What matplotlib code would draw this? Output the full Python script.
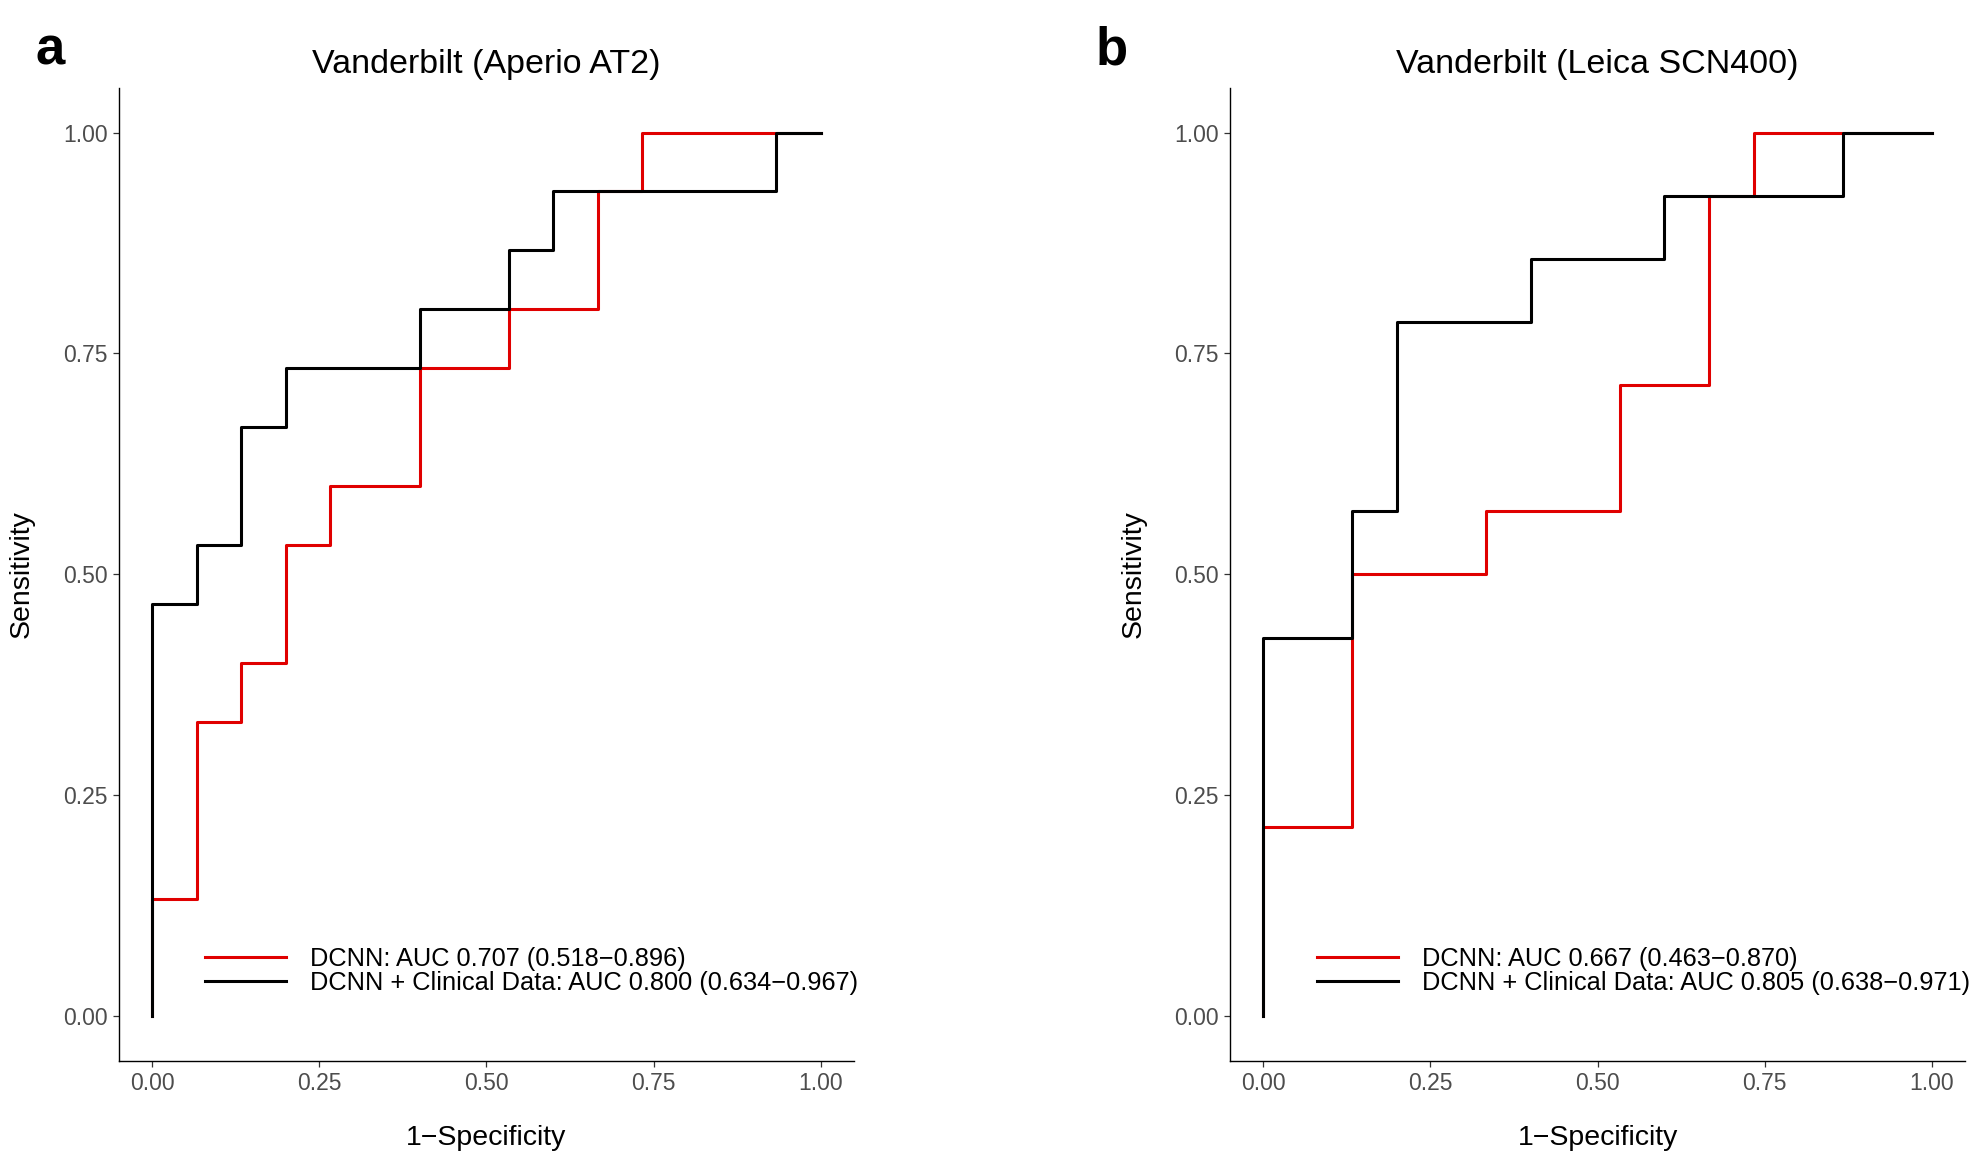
"""
ROC curves for the two Vanderbilt scanner cohorts (panels a and b).
Output: out.png
"""

import matplotlib
matplotlib.use("Agg")
import matplotlib.pyplot as plt

plt.rcParams.update({
    "font.family": ["Liberation Sans", "DejaVu Sans"],
    "font.size":   18,
})

# ── ROC corner points (FPR = 1-Specificity) ──
# panel a: 15 negatives / 15 positives
A_DCNN_FPR = [0, 0, 1/15, 1/15, 2/15, 2/15, 3/15, 3/15, 4/15, 4/15, 6/15, 6/15,
              8/15, 8/15, 10/15, 10/15, 11/15, 11/15, 1]
A_DCNN_TPR = [0, 2/15, 2/15, 5/15, 5/15, 6/15, 6/15, 8/15, 8/15, 9/15, 9/15, 11/15,
              11/15, 12/15, 12/15, 14/15, 14/15, 1, 1]
A_CLIN_FPR = [0, 0, 1/15, 1/15, 2/15, 2/15, 3/15, 3/15, 6/15, 6/15, 8/15, 8/15,
              9/15, 9/15, 14/15, 14/15, 1]
A_CLIN_TPR = [0, 7/15, 7/15, 8/15, 8/15, 10/15, 10/15, 11/15, 11/15, 12/15, 12/15, 13/15,
              13/15, 14/15, 14/15, 1, 1]

# panel b: 15 negatives / 14 positives
B_DCNN_FPR = [0, 0, 2/15, 2/15, 5/15, 5/15, 8/15, 8/15, 10/15, 10/15, 11/15, 11/15, 1]
B_DCNN_TPR = [0, 3/14, 3/14, 7/14, 7/14, 8/14, 8/14, 10/14, 10/14, 13/14, 13/14, 1, 1]
B_CLIN_FPR = [0, 0, 2/15, 2/15, 3/15, 3/15, 6/15, 6/15, 9/15, 9/15, 13/15, 13/15, 1]
B_CLIN_TPR = [0, 6/14, 6/14, 8/14, 8/14, 11/14, 11/14, 12/14, 12/14, 13/14, 13/14, 1, 1]

TITLES = ["Vanderbilt (Aperio AT2)", "Vanderbilt (Leica SCN400)"]
PANEL_TAGS = ["a", "b"]
LEGEND_A = ["DCNN: AUC 0.707 (0.518\u22120.896)",
            "DCNN + Clinical Data: AUC 0.800 (0.634\u22120.967)"]
LEGEND_B = ["DCNN: AUC 0.667 (0.463\u22120.870)",
            "DCNN + Clinical Data: AUC 0.805 (0.638\u22120.971)"]
TICKS = [0.0, 0.25, 0.5, 0.75, 1.0]
TICK_LABELS = ["0.00", "0.25", "0.50", "0.75", "1.00"]

RED = "#E00000"


def draw_panel(ax, curves, labels, title):
    for (fpr, tpr), color in zip(curves, [RED, "black"]):
        ax.plot(fpr, tpr, color=color, linewidth=2.2)

    ax.set_xlim(-0.05, 1.05)
    ax.set_ylim(-0.05, 1.05)
    ax.set_xticks(TICKS)
    ax.set_xticklabels(TICK_LABELS)
    ax.set_yticks(TICKS)
    ax.set_yticklabels(TICK_LABELS)
    ax.tick_params(colors="#333333", labelcolor="#4D4D4D", labelsize=16.5,
                   length=4, width=0.9, pad=4)
    for side in ["top", "right"]:
        ax.spines[side].set_visible(False)
    for side in ["left", "bottom"]:
        ax.spines[side].set_linewidth(1.0)
        ax.spines[side].set_color("black")

    ax.set_xlabel("1\u2212Specificity", fontsize=20.5, labelpad=22)
    ax.set_ylabel("Sensitivity", fontsize=20.5, labelpad=20)
    ax.set_title(title, fontsize=24.5, pad=11)

    ax.legend(labels, loc="center left", bbox_to_anchor=(0.118, 0.0925),
              frameon=False, fontsize=18.3, handlelength=3.18,
              handletextpad=0.95, labelspacing=0.0, borderpad=0,
              borderaxespad=0)


fig = plt.figure(figsize=(19.78, 11.59), dpi=100)
ax_a = fig.add_axes([0.0600, 0.0849, 0.3718, 0.8389])
ax_b = fig.add_axes([0.6218, 0.0849, 0.3718, 0.8389])

draw_panel(ax_a, [(A_DCNN_FPR, A_DCNN_TPR), (A_CLIN_FPR, A_CLIN_TPR)],
           LEGEND_A, TITLES[0])
draw_panel(ax_b, [(B_DCNN_FPR, B_DCNN_TPR), (B_CLIN_FPR, B_CLIN_TPR)],
           LEGEND_B, TITLES[1])

fig.text(0.0255, 0.978, PANEL_TAGS[0], fontsize=38, fontweight="bold",
         va="top", ha="center")
fig.text(0.5618, 0.978, PANEL_TAGS[1], fontsize=38, fontweight="bold",
         va="top", ha="center")

fig.savefig("out.png", dpi=100)
